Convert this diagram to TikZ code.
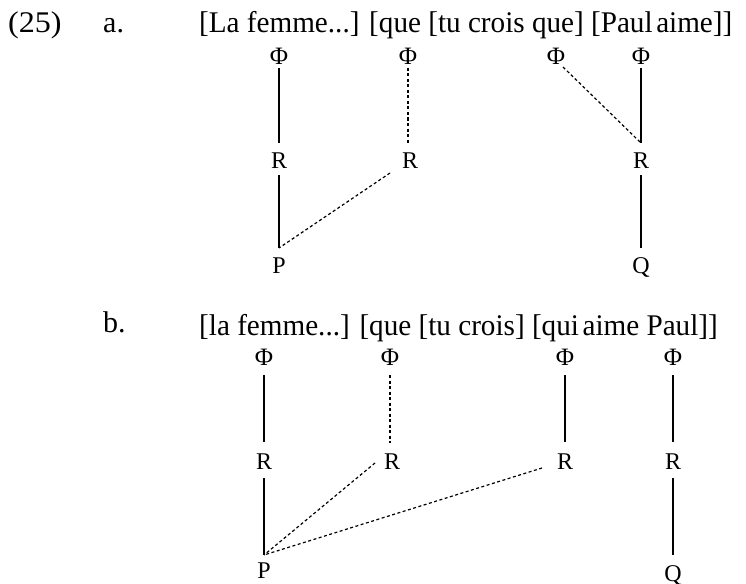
\documentclass[tikz,border=0pt]{standalone}
\usepackage{fontspec}
\setmainfont{Liberation Serif}
\newfontfamily\condfont[FakeStretch=0.972]{Liberation Serif}
\newfontfamily\widefont[FakeStretch=1.07]{Liberation Serif}
\begin{document}
\begin{tikzpicture}[x=1pt,y=-1pt,
  bigtext/.style={font=\fontsize{30}{32}\selectfont, anchor=base west, inner sep=0pt},
  widetext/.style={font=\widefont\fontsize{30}{32}\selectfont, anchor=base west, inner sep=0pt},
  condtext/.style={font=\condfont\fontsize{30}{32}\selectfont, anchor=base west, inner sep=0pt},
  lab/.style={font=\fontsize{24}{26}\selectfont, anchor=base, inner sep=0pt},
  philab/.style={font=\fontsize{25}{27}\selectfont, anchor=base, inner sep=0pt},
  solidln/.style={line width=1.2pt},
  dotln/.style={line width=1.2pt, dash pattern=on 3pt off 2.5pt}]
\useasboundingbox (0,0) rectangle (746,583);
% ---------- (a) ----------
\node[widetext] (num) at (8,33) {(25)};
\node[bigtext] (la) at (103,33) {a.};
\node[condtext] (sa) at (199,33) {[La femme...] [que [tu crois que] [Paul\hspace{0.12em}aime]]};
\node[philab] (a1) at (279,65) {Φ};
\node[philab] (a2) at (408,65) {Φ};
\node[philab] (a3) at (556,65) {Φ};
\node[philab] (a4) at (641,65) {Φ};
\node[lab] (ar1) at (279,168) {R};
\node[lab] (ar2) at (410,168) {R};
\node[lab] (ar3) at (641,168) {R};
\node[lab] (ap) at (279,273) {P};
\node[lab] (aq) at (641,273) {Q};
\draw[solidln] ([yshift=-3]a1.base) -- ([yshift=25]ar1.base);
\draw[dotln] ([yshift=-3]a2.base) -- ([xshift=-2,yshift=25]ar2.base);
\draw[dotln] ([xshift=7,yshift=-2]a3.base) -- ([yshift=25]ar3.base);
\draw[solidln] ([yshift=-3]a4.base) -- ([yshift=25]ar3.base);
\draw[solidln] ([yshift=-7]ar1.base) -- ([yshift=25]ap.base);
\draw[dotln] ([xshift=-20,yshift=-5]ar2.base) -- ([yshift=25]ap.base);
\draw[solidln] ([yshift=-7]ar3.base) -- ([yshift=25]aq.base);
% ---------- (b) ----------
\node[bigtext] (lb) at (103,332) {b.};
\node[condtext] (sb) at (199,335) {[la femme...] [que [tu crois] [qui\hspace{0.12em}aime Paul]]};
\node[philab] (b1) at (264,365) {Φ};
\node[philab] (b2) at (390,365) {Φ};
\node[philab] (b3) at (565,365) {Φ};
\node[philab] (b4) at (673,365) {Φ};
\node[lab] (br1) at (264,469) {R};
\node[lab] (br2) at (392,469) {R};
\node[lab] (br3) at (565,469) {R};
\node[lab] (br4) at (673,469) {R};
\node[lab] (bp) at (264,578) {P};
\node[lab] (bq) at (673,581) {Q};
\draw[solidln] ([yshift=-10]b1.base) -- ([yshift=27]br1.base);
\draw[dotln] ([yshift=-10]b2.base) -- ([xshift=-2,yshift=26]br2.base);
\draw[solidln] ([yshift=-10]b3.base) -- ([yshift=27]br3.base);
\draw[solidln] ([yshift=-10]b4.base) -- ([yshift=27]br4.base);
\draw[solidln] ([yshift=-9]br1.base) -- ([yshift=23]bp.base);
\draw[dotln] ([xshift=-17,yshift=6]br2.base) -- ([yshift=23]bp.base);
\draw[dotln] ([xshift=-23,yshift=1]br3.base) -- ([yshift=23]bp.base);
\draw[solidln] ([yshift=-9]br4.base) -- ([yshift=26]bq.base);
\end{tikzpicture}
\end{document}
